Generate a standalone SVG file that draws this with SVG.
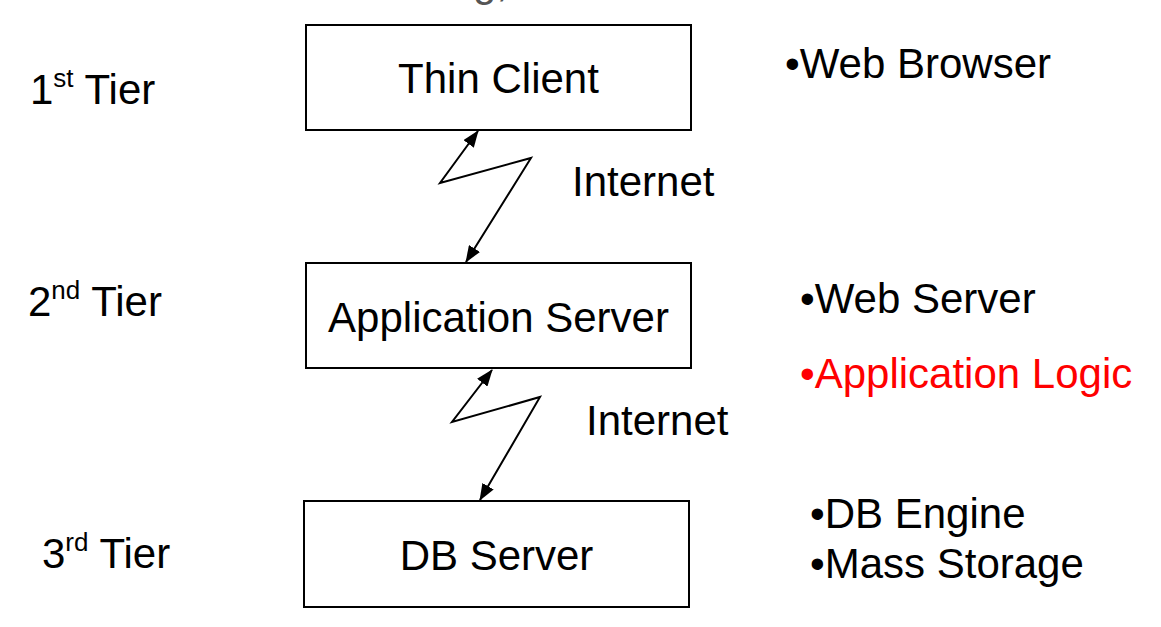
<svg xmlns="http://www.w3.org/2000/svg" width="1161" height="627" viewBox="0 0 1161 627">
<style>
  .box { fill: #fff; stroke: #000; stroke-width: 2; }
  .t { font-family: "Liberation Sans", Arial, sans-serif; font-size: 42px; fill: #000; }
  .tier { font-family: "Liberation Sans", Arial, sans-serif; font-size: 42px; fill: #000; }
  .sup { font-size: 26px; }
  .red { fill: #ff0000; }
  .link { fill: none; stroke: #000; stroke-width: 2; marker-start: url(#ah); marker-end: url(#ah); }
</style>
<defs>
  <marker id="ah" viewBox="0 0 17 13" refX="16" refY="6.5" markerWidth="17" markerHeight="13" markerUnits="userSpaceOnUse" orient="auto-start-reverse">
    <path d="M0,0 L17,6.5 L0,13 Z" fill="#000"/>
  </marker>
</defs>
<rect width="1161" height="627" fill="#fff"/>
<text x="473" y="-4" class="t" style="fill:#555">g,</text>

<g id="tier1"><text x="30" y="104" class="tier">1<tspan class="sup" dy="-17">st</tspan><tspan dy="17"> Tier</tspan></text></g>
<g id="tier2"><text x="28" y="316" class="tier">2<tspan class="sup" dy="-17">nd</tspan><tspan dy="17"> Tier</tspan></text></g>
<g id="tier3"><text x="42" y="568" class="tier">3<tspan class="sup" dy="-17">rd</tspan><tspan dy="17"> Tier</tspan></text></g>

<g id="thin-client">
  <rect class="box" x="306" y="25" width="385" height="105"/>
  <text x="498.5" y="93" class="t" text-anchor="middle">Thin Client</text>
</g>
<g id="app-server">
  <rect class="box" x="306" y="263" width="385" height="105"/>
  <text x="498.5" y="332" class="t" text-anchor="middle">Application Server</text>
</g>
<g id="db-server">
  <rect class="box" x="304" y="501" width="385" height="106"/>
  <text x="496.5" y="570" class="t" text-anchor="middle">DB Server</text>
</g>

<g id="connectors">
  <polyline class="link" points="478,131 440,183 531,158 466,262"/>
  <polyline class="link" points="492,370 452,422 540,397 480,500"/>
  <text x="572" y="196" class="t">Internet</text>
  <text x="586" y="435" class="t">Internet</text>
</g>

<g id="notes">
  <text x="785" y="78" class="t">•Web Browser</text>
  <text x="800" y="313" class="t">•Web Server</text>
  <text x="800" y="388" class="t red">•Application Logic</text>
  <text x="810" y="528" class="t">•DB Engine</text>
  <text x="810" y="578" class="t">•Mass Storage</text>
</g>
</svg>
